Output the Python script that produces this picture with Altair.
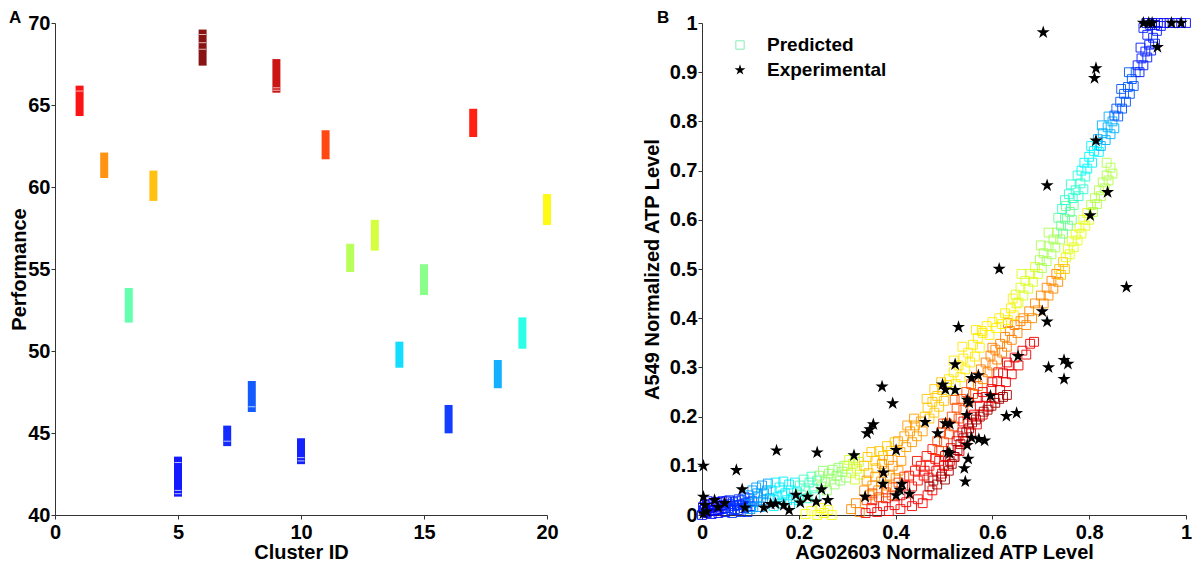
import altair as alt
import pandas as pd

FONT = "Liberation Sans"
STAR = ("M0,-1L0.2245,-0.309L0.951,-0.309L0.363,0.118L0.588,0.809L0,0.382"
        "L-0.588,0.809L-0.363,0.118L-0.951,-0.309L-0.2245,-0.309Z")

# jet colour map
jet_domain = [0, 0.125, 0.375, 0.625, 0.875, 1]
jet_range = ["#00008f", "#0000ff", "#00ffff", "#ffff00", "#ff0000", "#800000"]

# ---------------- Panel A ----------------
cluster_id = [1, 2, 3, 4, 5, 6, 7, 8, 9, 10, 11, 12, 13, 14, 15, 16, 17, 18, 19, 20]
perf_low = [64.33, 60.55, 51.73, 59.15, 41.12, 67.40, 44.20, 46.28, 65.75, 43.10,
            61.69, 54.82, 56.12, 48.98, 53.41, 44.98, 63.05, 47.73, 50.14, 57.68]
perf_high = [66.18, 62.10, 53.84, 61.00, 43.56, 69.60, 45.45, 48.17, 67.80, 44.68,
             63.46, 56.54, 58.00, 50.57, 55.29, 46.71, 64.77, 49.45, 52.05, 59.57]
cluster_c = [0.88, 0.74, 0.46, 0.69, 0.13, 1.00, 0.15, 0.20, 0.93, 0.14,
             0.82, 0.55, 0.58, 0.34, 0.50, 0.17, 0.86, 0.29, 0.40, 0.63]
member_cluster = [1, 6, 6, 6, 9, 9, 5, 5, 5, 8, 7, 10, 10]
member_perf = [65.85, 69.3, 68.8, 68.4, 66.05, 65.9, 41.3, 41.5, 43.2, 46.6, 44.5, 43.5, 43.3]

# ---------------- Panel B : predicted (x, y) per colour band ----------------
pred_blue_dark = [(0.0, 0.0), (0.004, 0.01), (0.006, 0.02), (0.01, 0.004), (0.012, 0.028), (0.016, 0.014),
                  (0.02, 0.002), (0.022, 0.022), (0.026, 0.01), (0.03, 0.018), (0.034, 0.004), (0.036, 0.026),
                  (0.04, 0.012), (0.044, 0.02), (0.048, 0.006), (0.05, 0.028),
                  (0.002, 0.016), (0.008, 0.006), (0.014, 0.022), (0.018, 0.008), (0.024, 0.016),
                  (0.028, 0.026), (0.032, 0.01), (0.038, 0.018), (0.042, 0.028), (0.046, 0.014)]
pred_blue = [(0.054, 0.014), (0.058, 0.022), (0.062, 0.004), (0.066, 0.018), (0.07, 0.028), (0.074, 0.01),
             (0.078, 0.02), (0.082, 0.03), (0.086, 0.014), (0.09, 0.024), (0.094, 0.006), (0.098, 0.034),
             (0.1, 0.018), (0.104, 0.028),
             (0.056, 0.03), (0.06, 0.01), (0.064, 0.026), (0.068, 0.012), (0.072, 0.02), (0.076, 0.032),
             (0.08, 0.006), (0.084, 0.022), (0.088, 0.036), (0.092, 0.016), (0.096, 0.026)]
pred_lightblue = [(0.096, 0.04), (0.1, 0.012), (0.104, 0.05), (0.108, 0.026), (0.112, 0.056), (0.116, 0.036),
                  (0.12, 0.016), (0.124, 0.06), (0.128, 0.044), (0.132, 0.024), (0.136, 0.064), (0.14, 0.034),
                  (0.106, 0.016), (0.114, 0.044), (0.126, 0.03), (0.134, 0.05)]
pred_cyan = [(0.144, 0.05), (0.148, 0.018), (0.152, 0.066), (0.156, 0.036), (0.16, 0.056), (0.164, 0.024),
             (0.168, 0.068), (0.172, 0.044), (0.176, 0.03), (0.18, 0.062), (0.184, 0.05), (0.188, 0.034),
             (0.192, 0.066), (0.196, 0.046), (0.2, 0.03), (0.15, 0.03), (0.166, 0.04), (0.182, 0.022)]
pred_cyangreen = [(0.202, 0.06), (0.206, 0.04), (0.21, 0.072), (0.214, 0.05), (0.218, 0.034), (0.222, 0.066),
                  (0.226, 0.078), (0.23, 0.054), (0.234, 0.04), (0.238, 0.07)]
pred_green = [(0.242, 0.08), (0.246, 0.058), (0.25, 0.09), (0.254, 0.068), (0.258, 0.05), (0.262, 0.084),
              (0.266, 0.072), (0.27, 0.092), (0.274, 0.062), (0.278, 0.08), (0.282, 0.096), (0.286, 0.07),
              (0.29, 0.088), (0.294, 0.1), (0.298, 0.076)]
pred_yellowgreen = [(0.3, 0.1), (0.304, 0.112), (0.308, 0.086), (0.312, 0.104), (0.316, 0.116), (0.32, 0.094),
                    (0.324, 0.108), (0.316, 0.072), (0.326, 0.082)]
pred_bottom_yellow = [(0.214, 0.002), (0.226, 0.008), (0.238, 0.0), (0.246, 0.014), (0.252, 0.004),
                      (0.26, 0.01), (0.268, 0.0)]
pred_low_orange = [(0.308, 0.012), (0.318, 0.024), (0.326, 0.006)]
pred_bottom_red = [(0.338, 0.004), (0.35, 0.014), (0.362, 0.006), (0.374, 0.018), (0.386, 0.008), (0.398, 0.02),
                   (0.41, 0.012), (0.422, 0.026), (0.434, 0.018), (0.446, 0.032), (0.456, 0.024), (0.466, 0.04),
                   (0.476, 0.05), (0.352, 0.03), (0.38, 0.034), (0.41, 0.04)]
pred_mass_yellow = [(0.335, 0.1), (0.342, 0.118), (0.35, 0.128), (0.358, 0.11), (0.366, 0.13), (0.374, 0.12),
                    (0.382, 0.14), (0.39, 0.13), (0.398, 0.148), (0.344, 0.085), (0.36, 0.095)]
pred_mass_orange = [(0.335, 0.05), (0.34, 0.07), (0.346, 0.04), (0.352, 0.06), (0.358, 0.078), (0.364, 0.05),
                    (0.37, 0.068), (0.376, 0.09), (0.382, 0.06), (0.388, 0.08), (0.394, 0.1), (0.4, 0.075),
                    (0.406, 0.09), (0.412, 0.11), (0.372, 0.104), (0.386, 0.112)]
pred_mass_orangered = [(0.34, 0.03), (0.352, 0.044), (0.366, 0.036), (0.38, 0.046), (0.394, 0.056),
                       (0.406, 0.066), (0.418, 0.078), (0.392, 0.04)]
pred_y_orange = [(0.405, 0.15), (0.41, 0.128), (0.418, 0.16), (0.422, 0.138), (0.43, 0.17), (0.434, 0.148),
                 (0.44, 0.182), (0.444, 0.16), (0.452, 0.19), (0.456, 0.17), (0.424, 0.182), (0.438, 0.196)]
pred_y_amber = [(0.46, 0.2), (0.466, 0.218), (0.47, 0.196), (0.476, 0.23), (0.48, 0.208), (0.486, 0.242),
                (0.49, 0.22), (0.496, 0.254), (0.5, 0.232), (0.506, 0.264), (0.464, 0.236), (0.48, 0.256),
                (0.494, 0.27)]
pred_y_yellow = [(0.51, 0.276), (0.514, 0.252), (0.52, 0.29), (0.524, 0.266), (0.53, 0.304), (0.534, 0.28),
                 (0.54, 0.318), (0.544, 0.296), (0.55, 0.33), (0.554, 0.31), (0.56, 0.346), (0.564, 0.322),
                 (0.57, 0.36), (0.574, 0.34), (0.578, 0.374), (0.566, 0.376), (0.52, 0.314), (0.538, 0.342)]
pred_o_red = [(0.42, 0.06), (0.428, 0.08), (0.434, 0.058), (0.44, 0.09), (0.446, 0.07), (0.452, 0.1),
              (0.458, 0.08), (0.464, 0.12), (0.47, 0.1), (0.476, 0.134), (0.482, 0.114), (0.444, 0.11)]
pred_o_orangered = [(0.486, 0.15), (0.49, 0.13), (0.494, 0.168), (0.5, 0.148), (0.506, 0.186), (0.51, 0.164),
                    (0.516, 0.2), (0.52, 0.18), (0.526, 0.218), (0.53, 0.196), (0.536, 0.236), (0.54, 0.214),
                    (0.546, 0.25), (0.55, 0.23), (0.556, 0.266), (0.56, 0.246), (0.566, 0.28), (0.498, 0.186),
                    (0.522, 0.234)]
pred_o_orange = [(0.57, 0.262), (0.576, 0.296), (0.58, 0.276), (0.586, 0.31), (0.59, 0.29), (0.596, 0.324),
                 (0.6, 0.304), (0.606, 0.336), (0.61, 0.316), (0.616, 0.348), (0.62, 0.33), (0.626, 0.362),
                 (0.63, 0.342), (0.636, 0.374), (0.64, 0.356), (0.646, 0.386), (0.652, 0.37), (0.658, 0.394),
                 (0.6, 0.34), (0.632, 0.39)]
pred_r_red = [(0.484, 0.09), (0.49, 0.11), (0.496, 0.084), (0.502, 0.12), (0.508, 0.1), (0.514, 0.136),
              (0.52, 0.118), (0.526, 0.15), (0.532, 0.13), (0.538, 0.168), (0.544, 0.15), (0.55, 0.186),
              (0.556, 0.166), (0.562, 0.204), (0.568, 0.184), (0.574, 0.222), (0.58, 0.204), (0.586, 0.24),
              (0.592, 0.22), (0.598, 0.256), (0.604, 0.238), (0.61, 0.272), (0.616, 0.254), (0.622, 0.288),
              (0.628, 0.27), (0.634, 0.304), (0.64, 0.286), (0.646, 0.32), (0.654, 0.304), (0.662, 0.334),
              (0.67, 0.326), (0.678, 0.348), (0.686, 0.352),
              (0.46, 0.09), (0.468, 0.076), (0.5, 0.1), (0.512, 0.11), (0.53, 0.16), (0.54, 0.19),
              (0.558, 0.2), (0.57, 0.238), (0.58, 0.25), (0.6, 0.27), (0.612, 0.29), (0.63, 0.31)]
pred_darkred = [(0.47, 0.058), (0.478, 0.07), (0.486, 0.062), (0.494, 0.078), (0.502, 0.072), (0.51, 0.09),
                (0.516, 0.104), (0.522, 0.118), (0.528, 0.132), (0.534, 0.144), (0.54, 0.156), (0.546, 0.168),
                (0.552, 0.176), (0.558, 0.188), (0.566, 0.194), (0.574, 0.2), (0.582, 0.21), (0.59, 0.214),
                (0.598, 0.222), (0.606, 0.228), (0.614, 0.236), (0.622, 0.24), (0.63, 0.244)]
pred_up_yellow = [(0.58, 0.37), (0.588, 0.384), (0.594, 0.366), (0.6, 0.392), (0.608, 0.38), (0.614, 0.4),
                  (0.62, 0.388), (0.626, 0.41), (0.632, 0.396), (0.638, 0.42), (0.644, 0.406), (0.65, 0.43),
                  (0.642, 0.44)]
pred_up_yellowgreen = [(0.648, 0.448), (0.654, 0.432), (0.658, 0.462), (0.664, 0.446), (0.668, 0.476),
                       (0.674, 0.46), (0.678, 0.49), (0.684, 0.474), (0.688, 0.504), (0.694, 0.49), (0.66, 0.49)]
pred_up_green = [(0.698, 0.518), (0.702, 0.502), (0.706, 0.532), (0.712, 0.516), (0.716, 0.546), (0.722, 0.53),
                 (0.726, 0.56), (0.73, 0.544), (0.734, 0.574), (0.74, 0.56), (0.7, 0.548), (0.716, 0.574)]
pred_up_lightgreen = [(0.742, 0.588), (0.746, 0.572), (0.75, 0.602), (0.756, 0.588), (0.76, 0.616),
                      (0.764, 0.6), (0.768, 0.63), (0.736, 0.604), (0.752, 0.628)]
pred_up_cyangreen = [(0.744, 0.622), (0.75, 0.64), (0.758, 0.652), (0.766, 0.644), (0.772, 0.66), (0.778, 0.648),
                     (0.782, 0.674), (0.788, 0.662), (0.762, 0.672), (0.776, 0.69), (0.792, 0.688)]
pred_up_cyan = [(0.784, 0.7), (0.79, 0.716), (0.796, 0.704), (0.8, 0.728), (0.806, 0.716), (0.81, 0.74),
                (0.804, 0.75), (0.816, 0.752), (0.82, 0.738)]
pred_up_lightblue = [(0.818, 0.764), (0.824, 0.75), (0.828, 0.776), (0.834, 0.762), (0.838, 0.788),
                     (0.844, 0.774), (0.848, 0.8), (0.852, 0.786), (0.826, 0.792), (0.84, 0.81)]
pred_up_blue = [(0.852, 0.812), (0.856, 0.826), (0.86, 0.81), (0.864, 0.84), (0.868, 0.826), (0.872, 0.856),
                (0.876, 0.84), (0.88, 0.87), (0.884, 0.856), (0.888, 0.886), (0.892, 0.872), (0.896, 0.9),
                (0.866, 0.866), (0.882, 0.9)]
pred_up_deepblue = [(0.9, 0.914), (0.904, 0.9), (0.908, 0.928), (0.912, 0.914), (0.916, 0.942), (0.92, 0.93),
                    (0.924, 0.956), (0.928, 0.944), (0.932, 0.97), (0.936, 0.958), (0.94, 0.984),
                    (0.906, 0.95), (0.92, 0.976), (0.912, 0.99), (0.926, 0.996)]
pred_top = [(0.918, 1.0), (0.93, 1.0), (0.942, 1.0), (0.954, 1.0), (0.966, 1.0), (0.978, 1.0), (0.99, 1.0),
            (1.0, 1.0), (0.936, 0.996), (0.948, 0.994)]
pred_right_orange = [(0.664, 0.4), (0.67, 0.386), (0.676, 0.414), (0.682, 0.4), (0.688, 0.43), (0.694, 0.416),
                     (0.7, 0.446), (0.706, 0.43), (0.712, 0.462), (0.716, 0.446), (0.722, 0.476),
                     (0.726, 0.46), (0.732, 0.49), (0.736, 0.474)]
pred_right_amber = [(0.738, 0.5), (0.742, 0.488), (0.746, 0.514), (0.75, 0.5)]
pred_right_yellowgreen = [(0.752, 0.524), (0.756, 0.54), (0.76, 0.53), (0.764, 0.556), (0.768, 0.544),
                          (0.772, 0.57), (0.776, 0.558), (0.78, 0.584), (0.784, 0.572), (0.788, 0.6),
                          (0.792, 0.588), (0.796, 0.614), (0.8, 0.6)]
pred_right_green = [(0.804, 0.63), (0.808, 0.616), (0.812, 0.644), (0.816, 0.632), (0.82, 0.66), (0.824, 0.648),
                    (0.828, 0.676), (0.832, 0.664), (0.836, 0.69), (0.84, 0.68), (0.844, 0.706),
                    (0.848, 0.694), (0.836, 0.716)]

pred_bands = [
    (pred_blue_dark, 0.13), (pred_blue, 0.17), (pred_lightblue, 0.28), (pred_cyan, 0.36),
    (pred_cyangreen, 0.44), (pred_green, 0.52), (pred_yellowgreen, 0.58), (pred_bottom_yellow, 0.62),
    (pred_low_orange, 0.74), (pred_bottom_red, 0.88), (pred_mass_yellow, 0.68), (pred_mass_orange, 0.73),
    (pred_mass_orangered, 0.80), (pred_y_orange, 0.72), (pred_y_amber, 0.68), (pred_y_yellow, 0.645),
    (pred_o_red, 0.86), (pred_o_orangered, 0.80), (pred_o_orange, 0.75), (pred_r_red, 0.89),
    (pred_darkred, 0.97), (pred_up_yellow, 0.64), (pred_up_yellowgreen, 0.59), (pred_up_green, 0.54),
    (pred_up_lightgreen, 0.48), (pred_up_cyangreen, 0.42), (pred_up_cyan, 0.37), (pred_up_lightblue, 0.30),
    (pred_up_blue, 0.21), (pred_up_deepblue, 0.15), (pred_top, 0.13), (pred_right_orange, 0.74),
    (pred_right_amber, 0.68), (pred_right_yellowgreen, 0.60), (pred_right_green, 0.55),
]

# ---------------- Panel B : experimental ----------------
exp_x = [0.003, 0.071, 0.154, 0.238, 0.314, 0.083, 0.003, 0.026, 0.033, 0.047, 0.006, 0.01, 0.003,
         0.089, 0.128, 0.142, 0.152, 0.169, 0.18, 0.194, 0.203, 0.218, 0.236, 0.247, 0.26,
         0.337, 0.341, 0.347, 0.354, 0.372, 0.394, 0.375, 0.374, 0.401, 0.401, 0.413, 0.409, 0.429,
         0.53, 0.523, 0.497, 0.503, 0.523, 0.557, 0.571, 0.653, 0.596, 0.548, 0.552, 0.547,
         0.461, 0.503, 0.512, 0.487, 0.629, 0.65, 0.557, 0.572, 0.584, 0.548, 0.508, 0.512,
         0.55, 0.542, 0.544, 0.703, 0.713, 0.716, 0.748, 0.756, 0.748, 0.877,
         0.614, 0.713, 0.838, 0.802, 0.814, 0.705, 0.814, 0.811, 0.941,
         0.912, 0.923, 0.93, 0.97, 0.99]
exp_y = [0.1, 0.091, 0.131, 0.127, 0.121, 0.052, 0.037, 0.03, 0.016, 0.024, 0.02, 0.007, 0.003,
         0.015, 0.015, 0.022, 0.023, 0.02, 0.01, 0.041, 0.025, 0.037, 0.027, 0.052, 0.03,
         0.037, 0.166, 0.174, 0.184, 0.261, 0.227, 0.086, 0.063, 0.132, 0.04, 0.063, 0.051, 0.043,
         0.382, 0.306, 0.265, 0.255, 0.254, 0.278, 0.284, 0.323, 0.242, 0.234, 0.228, 0.203,
         0.189, 0.186, 0.185, 0.166, 0.201, 0.207, 0.157, 0.154, 0.151, 0.142, 0.128, 0.125,
         0.114, 0.095, 0.068, 0.414, 0.393, 0.3, 0.315, 0.307, 0.276, 0.463,
         0.5, 0.67, 0.656, 0.609, 0.761, 0.981, 0.908, 0.888, 0.951,
         1.0, 1.0, 1.0, 1.0, 1.0]

# ---------------- build frames ----------------
dfA = pd.DataFrame({"cluster": cluster_id, "low": perf_low, "high": perf_high, "c": cluster_c})
dfM = pd.DataFrame({"cluster": member_cluster, "low": member_perf})
rows = []
for pts, cval in pred_bands:
    for px, py in pts:
        rows.append({"x": px, "y": py, "c": cval})
dfP = pd.DataFrame(rows)
dfE = pd.DataFrame({"x": exp_x, "y": exp_y})

jet = alt.Scale(domain=jet_domain, range=jet_range, interpolate="rgb")

xA = alt.X("cluster:Q", title="Cluster ID",
           scale=alt.Scale(domain=[0, 20], nice=False, zero=False, padding=0),
           axis=alt.Axis(values=[0, 5, 10, 15, 20]))
yA = alt.Y("low:Q", title="Performance",
           scale=alt.Scale(domain=[40, 70], nice=False, zero=False, padding=0),
           axis=alt.Axis(values=[40, 45, 50, 55, 60, 65, 70], titleX=-26))

barsA = alt.Chart(dfA).mark_bar(size=8, opacity=0.92).encode(
    x=xA, y=yA, y2="high:Q",
    color=alt.Color("c:Q", scale=jet, legend=None),
)
membersA = alt.Chart(dfM).mark_tick(orient="horizontal", color="white", thickness=1, size=7, opacity=0.7).encode(
    x=xA, y=yA,
)
labelA = alt.Chart(pd.DataFrame({"t": ["A"]})).mark_text(
    align="left", baseline="top", font=FONT, fontSize=17, fontWeight="bold", color="black"
).encode(x=alt.value(-46), y=alt.value(-13), text="t:N")

chartA = alt.layer(barsA, membersA, labelA).properties(width=492, height=492)

xB = alt.X("x:Q", title="AG02603 Normalized ATP Level",
           scale=alt.Scale(domain=[0, 1], nice=False, zero=False),
           axis=alt.Axis(values=[0, 0.2, 0.4, 0.6, 0.8, 1], format="~g"))
yB = alt.Y("y:Q", title="A549 Normalized ATP Level",
           scale=alt.Scale(domain=[0, 1], nice=False, zero=False),
           axis=alt.Axis(values=[0, 0.1, 0.2, 0.3, 0.4, 0.5, 0.6, 0.7, 0.8, 0.9, 1], format="~g",
                         titleX=-40))

predB = alt.Chart(dfP).mark_point(shape="square", filled=False, size=78, strokeWidth=1, opacity=0.9).encode(
    x=xB, y=yB, color=alt.Color("c:Q", scale=jet, legend=None),
)
expB = alt.Chart(dfE).mark_point(shape=STAR, filled=True, size=190, color="black", strokeWidth=0, opacity=1).encode(
    x=xB, y=yB,
)
one = pd.DataFrame({"t": ["Predicted"]})
two = pd.DataFrame({"t": ["Experimental"]})
legSq = alt.Chart(one).mark_point(shape="square", filled=False, size=70, strokeWidth=1, color="#86ecb8", opacity=1).encode(
    x=alt.value(38), y=alt.value(22))
legSt = alt.Chart(two).mark_point(shape=STAR, filled=True, size=130, strokeWidth=0, color="black", opacity=1).encode(
    x=alt.value(38), y=alt.value(47))
legT1 = alt.Chart(one).mark_text(align="left", baseline="middle", font=FONT, fontSize=19, fontWeight="bold",
                                 color="black").encode(x=alt.value(65), y=alt.value(22), text="t:N")
legT2 = alt.Chart(two).mark_text(align="left", baseline="middle", font=FONT, fontSize=19, fontWeight="bold",
                                 color="black").encode(x=alt.value(65), y=alt.value(47), text="t:N")
labelB = alt.Chart(pd.DataFrame({"t": ["B"]})).mark_text(
    align="left", baseline="top", font=FONT, fontSize=17, fontWeight="bold", color="black"
).encode(x=alt.value(-45), y=alt.value(-13), text="t:N")

chartB = alt.layer(predB, expB, legSq, legSt, legT1, legT2, labelB).properties(width=484, height=492)

chart = alt.hconcat(chartA, chartB, spacing=155, bounds="flush").properties(
    autosize=alt.AutoSizeParams(type="none"),
    padding={"left": 47, "top": 15, "right": 1137, "bottom": 536},
).configure_view(stroke=None).configure_axis(
    labelFont=FONT, titleFont=FONT, labelFontSize=20, titleFontSize=20,
    labelFontWeight="bold", titleFontWeight="bold", labelColor="black", titleColor="black",
    domainColor="#333333", tickColor="#333333", domainWidth=1, tickWidth=1, tickSize=4, grid=False,
).configure_axisX(labelPadding=3, titlePadding=0, labelFlush=False).configure_axisY(labelPadding=1)

chart.save("out.html", embed_options={"renderer": "svg", "actions": False})
